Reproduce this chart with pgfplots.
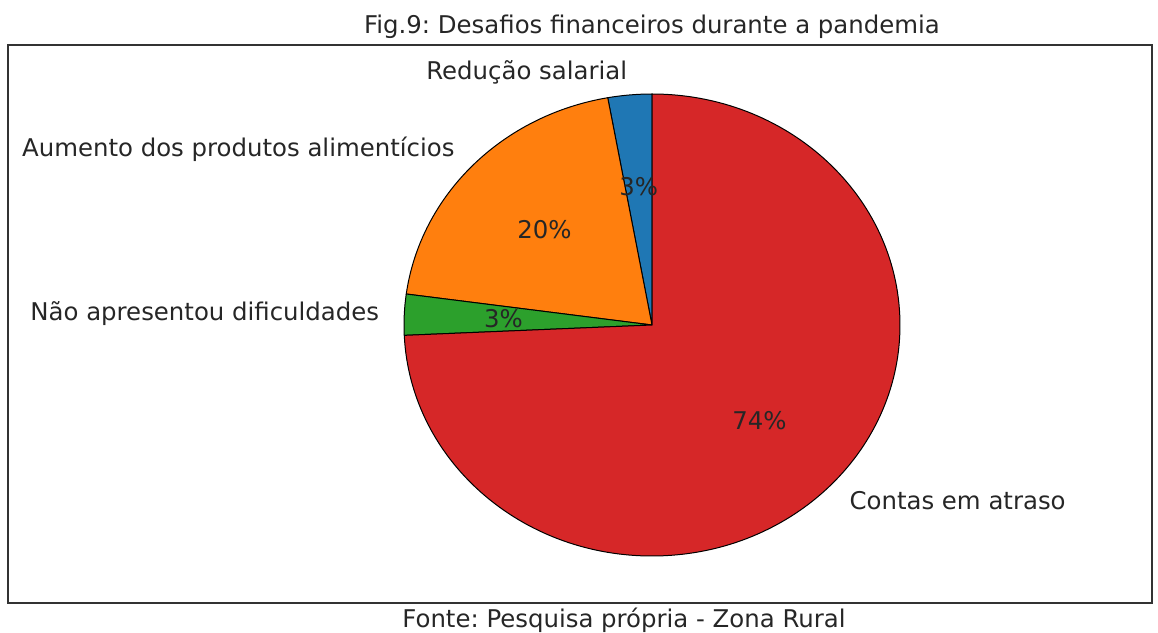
\documentclass[border=0pt]{standalone}
\usepackage{pgfplots}
\pgfplotsset{compat=1.18}
\usepackage{pgfplotstable}
\usepackage{fontspec}
\setmainfont{DejaVu Sans}
\frenchspacing

\definecolor{tabblue}{HTML}{1F77B4}
\definecolor{taborange}{HTML}{FF7F0E}
\definecolor{tabgreen}{HTML}{2CA02C}
\definecolor{tabred}{HTML}{D62728}

% answers per category (Redução, Aumento, Não apresentou, Contas)
\pgfplotstableread{
value
1
7
1
26
}\piedata

\tikzset{lbl/.style={font=\fontsize{12.2}{14.6}\selectfont, text=black!85}}

\begin{document}
\begin{tikzpicture}
\pgfplotstablegetelem{0}{value}\of\piedata \let\va\pgfplotsretval
\pgfplotstablegetelem{1}{value}\of\piedata \let\vb\pgfplotsretval
\pgfplotstablegetelem{2}{value}\of\piedata \let\vc\pgfplotsretval
\pgfplotstablegetelem{3}{value}\of\piedata \let\vd\pgfplotsretval
\pgfmathsetmacro\tot{\va+\vb+\vc+\vd}
\pgfmathsetmacro\aA{90}
\pgfmathsetmacro\aB{\aA+360*\va/\tot}
\pgfmathsetmacro\aC{\aB+360*\vb/\tot}
\pgfmathsetmacro\aD{\aC+360*\vc/\tot}
\pgfmathsetmacro\aE{450}
\pgfmathtruncatemacro\pA{round(100*\va/\tot)}
\pgfmathtruncatemacro\pB{round(100*\vb/\tot)}
\pgfmathtruncatemacro\pC{round(100*\vc/\tot)}
\pgfmathtruncatemacro\pD{round(100*\vd/\tot)}
\def\rx{248}\def\ry{231}
\begin{axis}[
    x=0.5pt, y=0.5pt,
    xmin=-644, xmax=500, ymin=-278, ymax=280,
    axis line style={black!80, line width=0.6pt},
    xtick=\empty, ytick=\empty,
    clip=false,
]
\filldraw[fill=tabblue, draw=black, line width=0.5pt] (axis cs:0,0) -- (axis cs:{\rx*cos(\aA)},{\ry*sin(\aA)})
    arc[start angle=\aA, end angle=\aB, x radius=124pt, y radius=115.5pt] -- cycle;
\filldraw[fill=taborange, draw=black, line width=0.5pt] (axis cs:0,0) -- (axis cs:{\rx*cos(\aB)},{\ry*sin(\aB)})
    arc[start angle=\aB, end angle=\aC, x radius=124pt, y radius=115.5pt] -- cycle;
\filldraw[fill=tabgreen, draw=black, line width=0.5pt] (axis cs:0,0) -- (axis cs:{\rx*cos(\aC)},{\ry*sin(\aC)})
    arc[start angle=\aC, end angle=\aD, x radius=124pt, y radius=115.5pt] -- cycle;
\filldraw[fill=tabred, draw=black, line width=0.5pt] (axis cs:0,0) -- (axis cs:{\rx*cos(\aD)},{\ry*sin(\aD)})
    arc[start angle=\aD, end angle=\aE, x radius=124pt, y radius=115.5pt] -- cycle;
% percentages at 0.6 r
\pgfmathsetmacro\mA{(\aA+\aB)/2}\pgfmathsetmacro\mB{(\aB+\aC)/2}
\pgfmathsetmacro\mC{(\aC+\aD)/2}\pgfmathsetmacro\mD{(\aD+\aE)/2}
\node[lbl] at (axis cs:{0.6*\rx*cos(\mA)},{0.6*\ry*sin(\mA)}) {\pA\%};
\node[lbl] at (axis cs:{0.6*\rx*cos(\mB)},{0.6*\ry*sin(\mB)}) {\pB\%};
\node[lbl] at (axis cs:{0.6*\rx*cos(\mC)},{0.6*\ry*sin(\mC)}) {\pC\%};
\node[lbl] at (axis cs:{0.6*\rx*cos(\mD)},{0.6*\ry*sin(\mD)}) {\pD\%};
% labels at 1.1 r
\node[lbl, anchor=east, inner xsep=0pt] at (axis cs:{1.1*\rx*cos(\mA)},{1.1*\ry*sin(\mA)}) {Redução salarial};
\node[lbl, anchor=east, inner xsep=0pt] at (axis cs:{1.1*\rx*cos(\mB)},{1.1*\ry*sin(\mB)}) {Aumento dos produtos alimentícios};
\node[lbl, anchor=east, inner xsep=0pt] at (axis cs:{1.1*\rx*cos(\mC)},{1.1*\ry*sin(\mC)}) {Não apresentou dificuldades};
\node[lbl, anchor=west, inner xsep=0pt] at (axis cs:{1.1*\rx*cos(\mD)},{1.1*\ry*sin(\mD)}) {Contas em atraso};
% title and source
\node[lbl, inner sep=0pt] at (axis cs:0,298) {Fig.9: Desafios financeiros durante a pandemia};
\node[lbl, inner sep=0pt] at (axis cs:-28,-295) {Fonte: Pesquisa própria - Zona Rural};
\coordinate (bl) at (axis cs:-652,-307);
\coordinate (tr) at (axis cs:506,325);
\end{axis}
\path (bl) rectangle (tr);
\end{tikzpicture}
\end{document}
